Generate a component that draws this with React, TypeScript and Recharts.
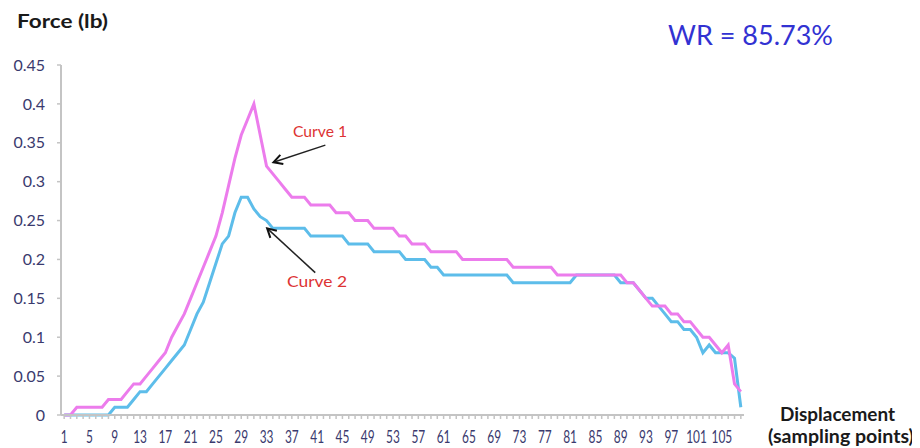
import React from "react";
import { LineChart, Line, XAxis, YAxis, ReferenceLine } from "recharts";

// Sampling points (categories)
const categories: number[] = Array.from({ length: 108 }, (_, i) => i + 1);

// Curve 1 (magenta) force values, lb
const curve1: number[] = [
  0, 0, 0.01, 0.01, 0.01, 0.01, 0.01, 0.02, 0.02, 0.02,
  0.03, 0.04, 0.04, 0.05, 0.06, 0.07, 0.08, 0.10, 0.115, 0.13,
  0.15, 0.17, 0.19, 0.21, 0.23, 0.26, 0.295, 0.33, 0.36, 0.38,
  0.40, 0.36, 0.32, 0.31, 0.30, 0.29, 0.28, 0.28, 0.28, 0.27,
  0.27, 0.27, 0.27, 0.26, 0.26, 0.26, 0.25, 0.25, 0.25, 0.24,
  0.24, 0.24, 0.24, 0.23, 0.23, 0.22, 0.22, 0.22, 0.21, 0.21,
  0.21, 0.21, 0.21, 0.20, 0.20, 0.20, 0.20, 0.20, 0.20, 0.20,
  0.20, 0.19, 0.19, 0.19, 0.19, 0.19, 0.19, 0.19, 0.18, 0.18,
  0.18, 0.18, 0.18, 0.18, 0.18, 0.18, 0.18, 0.18, 0.18, 0.17,
  0.17, 0.16, 0.15, 0.14, 0.14, 0.14, 0.13, 0.13, 0.12, 0.12,
  0.11, 0.10, 0.10, 0.09, 0.08, 0.09, 0.04, 0.03,
];

// Curve 2 (blue) force values, lb
const curve2: number[] = [
  0, 0, 0, 0, 0, 0, 0, 0, 0.01, 0.01,
  0.01, 0.02, 0.03, 0.03, 0.04, 0.05, 0.06, 0.07, 0.08, 0.09,
  0.11, 0.13, 0.145, 0.17, 0.195, 0.22, 0.23, 0.26, 0.28, 0.28,
  0.265, 0.255, 0.25, 0.24, 0.24, 0.24, 0.24, 0.24, 0.24, 0.23,
  0.23, 0.23, 0.23, 0.23, 0.23, 0.22, 0.22, 0.22, 0.22, 0.21,
  0.21, 0.21, 0.21, 0.21, 0.20, 0.20, 0.20, 0.20, 0.19, 0.19,
  0.18, 0.18, 0.18, 0.18, 0.18, 0.18, 0.18, 0.18, 0.18, 0.18,
  0.18, 0.17, 0.17, 0.17, 0.17, 0.17, 0.17, 0.17, 0.17, 0.17,
  0.17, 0.18, 0.18, 0.18, 0.18, 0.18, 0.18, 0.18, 0.17, 0.17,
  0.17, 0.16, 0.15, 0.15, 0.14, 0.13, 0.12, 0.12, 0.11, 0.11,
  0.10, 0.08, 0.09, 0.08, 0.08, 0.08, 0.073, 0.01,
];

// Tick labels
const xLabels: number[] = [1, 5, 9, 13, 17, 21, 25, 29, 33, 37, 41, 45, 49, 53, 57, 61, 65, 69, 73, 77, 81, 85, 89, 93, 97, 101, 105];
const yTicks: number[] = [0, 0.05, 0.1, 0.15, 0.2, 0.25, 0.3, 0.35, 0.4, 0.45];

const data = categories.map((c, i) => ({ x: c, c1: curve1[i], c2: curve2[i] }));

const TICK_COLOR = "#3a3a6e";
const AXIS_COLOR = "#c4c4c4";

const XTick = (props: any) => {
  const { x, y, payload } = props;
  const v = payload.value;
  if (!xLabels.includes(v)) return <g />;
  const s = String(v);
  return (
    <g transform={`translate(${x},${y + 22}) scale(0.7,1)`}>
      <text x={0} y={0} textAnchor="middle" fontSize={17} fontFamily="Lato" fill={TICK_COLOR}>
        {s}
      </text>
    </g>
  );
};

const Arrow = (p: any) => {
  const { x1, y1, x2, y2 } = p;
  const ang = Math.atan2(y2 - y1, x2 - x1);
  const L = 10;
  const a = 0.5;
  const ax = x2 - L * Math.cos(ang - a);
  const ay = y2 - L * Math.sin(ang - a);
  const bx = x2 - L * Math.cos(ang + a);
  const by = y2 - L * Math.sin(ang + a);
  return (
    <g>
      <line x1={x1} y1={y1} x2={x2} y2={y2} stroke="#222" strokeWidth={1.5} />
      <polyline points={`${ax},${ay} ${x2},${y2} ${bx},${by}`} fill="none" stroke="#111" strokeWidth={2} />
    </g>
  );
};

export default function App() {
  return (
    <div style={{ position: "relative", width: 912, height: 440 }}>
      <LineChart
        width={912}
        height={440}
        data={data}
        margin={{ top: 57, right: 176, bottom: 0, left: 8 }}
      >
        <XAxis
          dataKey="x"
          type="number"
          domain={[0.5, 108.5]}
          ticks={categories}
          interval={0}
          height={33}
          tickSize={4}
          tickMargin={2}
          tick={<XTick />}
          axisLine={{ stroke: AXIS_COLOR, strokeWidth: 2 }}
          tickLine={{ stroke: AXIS_COLOR, strokeWidth: 1.5 }}
        />
        <YAxis
          type="number"
          domain={[0, 0.45]}
          ticks={yTicks}
          interval={0}
          width={45}
          tickSize={4}
          tickMargin={12}
          tick={{ fontSize: 16, fontFamily: "Lato", fill: TICK_COLOR }}
          axisLine={{ stroke: AXIS_COLOR, strokeWidth: 2 }}
          tickLine={{ stroke: AXIS_COLOR, strokeWidth: 1.5 }}
        />
        <Line
          type="linear"
          dataKey="c2"
          stroke="#5DBDEA"
          strokeWidth={3}
          dot={false}
          isAnimationActive={false}
        />
        <Line
          type="linear"
          dataKey="c1"
          stroke="#EC7CEC"
          strokeWidth={3}
          dot={false}
          isAnimationActive={false}
        />
        <ReferenceLine
          segment={[{ x: 42.3, y: 0.347 }, { x: 34.1, y: 0.325 }]}
          shape={Arrow}
          ifOverflow="visible"
        />
        <ReferenceLine
          segment={[{ x: 40.7, y: 0.183 }, { x: 33.1, y: 0.24 }]}
          shape={Arrow}
          ifOverflow="visible"
        />
      </LineChart>
      <svg
        width={912}
        height={440}
        style={{ position: "absolute", left: 0, top: 0, pointerEvents: "none", overflow: "visible" }}
      >
        <text x={9} y={20} fontFamily="Lato" fontWeight="bold" fontSize={18} fill="#1a1a1a" textLength={91} lengthAdjust="spacingAndGlyphs">
          Force (lb)
        </text>
        <text x={660} y={37} fontFamily="Lato" fontSize={26} fill="#3232D2" textLength={165} lengthAdjust="spacingAndGlyphs">
          WR = 85.73%
        </text>
        <text x={772} y={413} fontFamily="Lato" fontWeight="bold" fontSize={18} fill="#1a1a1a" textLength={115} lengthAdjust="spacingAndGlyphs">
          Displacement
        </text>
        <text x={760} y={435} fontFamily="Lato" fontWeight="bold" fontSize={18} fill="#1a1a1a" textLength={146} lengthAdjust="spacingAndGlyphs">
          (sampling points)
        </text>
        <text x={285} y={129} fontFamily="Lato" fontSize={15} fill="#DD3333" textLength={54} lengthAdjust="spacingAndGlyphs">
          Curve 1
        </text>
        <text x={279} y={279} fontFamily="Lato" fontSize={15} fill="#DD3333" textLength={60} lengthAdjust="spacingAndGlyphs">
          Curve 2
        </text>
      </svg>
    </div>
  );
}
